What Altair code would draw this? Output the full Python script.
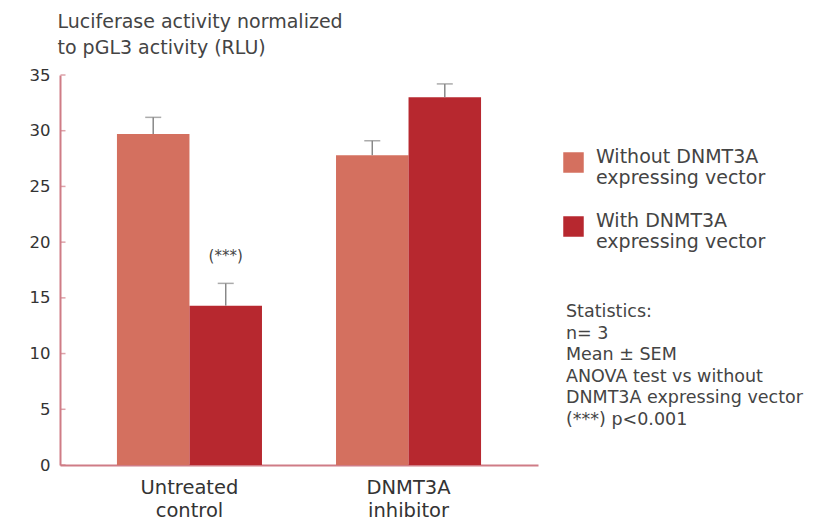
import altair as alt
import pandas as pd

# Treatment groups and vector conditions
groups = ["Untreated control", "DNMT3A inhibitor"]
series = ["Without DNMT3A expressing vector", "With DNMT3A expressing vector"]

# Mean luciferase activity (RLU) and SEM per group
without_mean = [29.7, 27.8]
without_sem = [1.5, 1.3]
with_mean = [14.3, 33.0]
with_sem = [2.0, 1.2]

# Significance marker (placed above the error bar it refers to)
sig_group = "Untreated control"
sig_series = "With DNMT3A expressing vector"
sig_label = "(***)"
sig_y = 18.8

y_ticks = [0, 5, 10, 15, 20, 25, 30, 35]
bar_colors = ["#d4705f", "#b7282f"]
axis_color = "#cf7c86"

stats_lines = [
    "Statistics:",
    "n= 3",
    "Mean \u00b1 SEM",
    "ANOVA test vs without",
    "DNMT3A expressing vector",
    "(***) p<0.001",
]

rows = []
for i, g in enumerate(groups):
    rows.append({"group": g, "series": series[0], "mean": without_mean[i],
                 "top": without_mean[i] + without_sem[i]})
    rows.append({"group": g, "series": series[1], "mean": with_mean[i],
                 "top": with_mean[i] + with_sem[i]})
df = pd.DataFrame(rows)

x_enc = alt.X(
    "group:N",
    sort=groups,
    scale=alt.Scale(paddingInner=0.338, paddingOuter=0.26),
    axis=alt.Axis(
        title=None,
        labelAngle=0,
        labelExpr="split(datum.label, ' ')",
        labelFontSize=19.5,
        labelLineHeight=23,
        labelColor="#333333",
        labelPadding=13,
        ticks=False,
        domainColor=axis_color,
        domainWidth=2,
    ),
)
xoff = alt.XOffset("series:N", sort=series, scale=alt.Scale(paddingInner=0, paddingOuter=0))
y_scale = alt.Scale(domain=[0, 35], nice=False)

bars = alt.Chart(df).mark_bar(opacity=1).encode(
    x=x_enc,
    xOffset=xoff,
    y=alt.Y(
        "mean:Q",
        scale=y_scale,
        axis=alt.Axis(
            values=y_ticks,
            title=["Luciferase activity normalized", "to pGL3 activity (RLU)"],
            titleAngle=0,
            titleAlign="left",
            titleBaseline="top",
            titleX=-3,
            titleY=-63,
            titleFontSize=19,
            titleFontWeight="normal",
            titleLineHeight=26,
            titleColor="#444444",
            labelFontSize=16.5,
            labelColor="#333333",
            labelPadding=10,
            ticks=False,
            grid=False,
            domainColor=axis_color,
            domainWidth=2,
        ),
    ),
    color=alt.Color(
        "series:N",
        sort=series,
        scale=alt.Scale(domain=series, range=bar_colors),
        legend=alt.Legend(
            title=None,
            orient="none",
            legendX=503,
            legendY=77,
            symbolType="square",
            symbolSize=420,
            symbolStrokeWidth=0,
            symbolOpacity=1,
            labelFontSize=19,
            labelColor="#444444",
            labelBaseline="alphabetic",
            labelOffset=12,
            labelLimit=400,
            rowPadding=23,
            labelExpr="split(replace(datum.label, ' expressing', '|expressing'), '|')",
        ),
    ),
)

err_rule = alt.Chart(df).mark_rule(color="#888888", strokeWidth=1.5).encode(
    x=alt.X("group:N", sort=groups),
    xOffset=xoff,
    y=alt.Y("mean:Q", scale=y_scale),
    y2="top:Q",
)

err_cap = alt.Chart(df).mark_tick(color="#888888", thickness=1.5, size=16).encode(
    x=alt.X("group:N", sort=groups),
    xOffset=xoff,
    y=alt.Y("top:Q", scale=y_scale),
)

# Inward ticks on the y axis
tick_df = pd.DataFrame({"v": y_ticks})
y_tick_marks = alt.Chart(tick_df).mark_tick(color=axis_color, thickness=1.5, size=5).encode(
    y=alt.Y("v:Q", scale=y_scale),
    x=alt.value(3),
)

sig_df = pd.DataFrame({"group": [sig_group], "series": [sig_series], "y": [sig_y], "label": [sig_label]})
sig_text = alt.Chart(sig_df).mark_text(fontSize=15, color="#444444", baseline="middle").encode(
    x=alt.X("group:N", sort=groups),
    xOffset=xoff,
    y=alt.Y("y:Q", scale=y_scale),
    text="label:N",
)

stats_df = pd.DataFrame({"k": [0]})
stats_text = alt.Chart(stats_df).mark_text(
    align="left", baseline="top", fontSize=17.5, lineHeight=21.6, color="#444444"
).encode(
    x=alt.value(506),
    y=alt.value(228),
    text=alt.value(stats_lines),
)

chart = (
    alt.layer(bars, err_rule, err_cap, y_tick_marks, sig_text, stats_text)
    .properties(
        width=478,
        height=390,
        autosize=alt.AutoSizeParams(type="none"),
        padding={"left": 60, "top": 75, "right": 288, "bottom": 57},
        background="white",
    )
    .configure(font="DejaVu Sans")
    .configure_view(stroke=None)
)

chart.save("out.html", embed_options={"renderer": "svg", "actions": False})
